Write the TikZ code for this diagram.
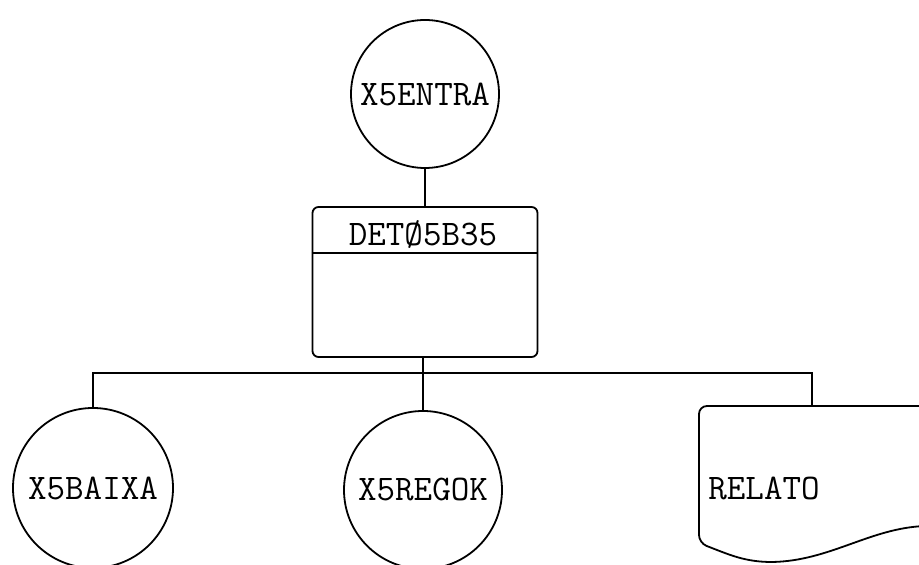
\documentclass[tikz,border=0pt]{standalone}
\usepackage{tikz}

\begin{document}
\begin{tikzpicture}[x=0.5pt,y=-0.5pt,
  txt/.style={font=\ttfamily\fontsize{18}{20}\selectfont},
  proc/.style={circle,draw,line width=0.9pt,inner sep=0pt,txt},
  blk/.style={rectangle,draw,line width=0.9pt,rounded corners=3pt,minimum width=112.5pt,minimum height=75pt},
  doc/.style={draw,line width=0.9pt},
  link/.style={line width=0.9pt}
]
  \useasboundingbox (0,0) rectangle (919,565);
  \clip (0,0) rectangle (919,565);
  % entrada
  \node[proc,minimum size=74pt] (ent) at (425,94) {X5ENTRA};
  % programa
  \node[blk] (det) at (425,282) {};
  \coordinate (div) at (0,253);
  \draw[link] (det.west |- div) -- (det.east |- div);
  \node[txt,inner sep=0pt] (dett) at (423,235) {DETØ5B35};
  % saidas
  \node[proc,minimum size=80pt] (bai) at (93,488) {X5BAIXA};
  \node[proc,minimum size=79pt] (reg) at (423,490) {X5REGOK};
  \draw[doc,rounded corners=4pt] (980,406) -- (699,406) -- (699,543)
    [sharp corners] .. controls (730,555) and (745,562) .. (772,562)
    .. controls (830,561) and (870,528) .. (925,526) -- (980,526);
  \node[txt,inner sep=0pt,anchor=west] (rel) at (708,488) {RELATO};
  \coordinate (reltop) at (812,406);
  % ligacoes
  \coordinate (bus) at (423,373);
  \draw[link] (ent) -- (det);
  \draw[link] (det.south -| bus) -- (bus);
  \draw[link] (bai.north) |- (bus) -| (reltop);
  \draw[link] (bus) -- (reg.north);
\end{tikzpicture}
\end{document}
